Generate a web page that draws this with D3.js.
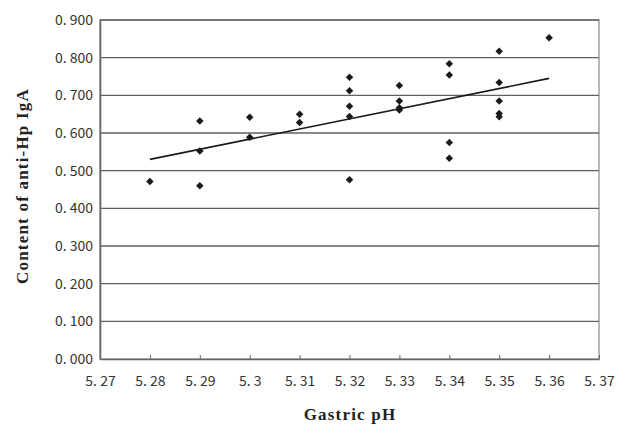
<!DOCTYPE html>
<html>
<head>
<meta charset="utf-8">
<script src="https://cdn.jsdelivr.net/npm/d3@7"></script>
<style>
  body { margin: 0; background: #fff; }
  svg { display: block; }
</style>
</head>
<body>
<div id="chart"></div>
<script>
// Data
const phValues = [5.28, 5.29, 5.29, 5.29, 5.30, 5.30, 5.31, 5.31,
  5.32, 5.32, 5.32, 5.32, 5.32, 5.33, 5.33, 5.33, 5.33,
  5.34, 5.34, 5.34, 5.34, 5.35, 5.35, 5.35, 5.35, 5.35, 5.36];
const igaValues = [0.471, 0.632, 0.552, 0.460, 0.642, 0.589, 0.650, 0.628,
  0.748, 0.712, 0.671, 0.644, 0.476, 0.726, 0.685, 0.667, 0.661,
  0.784, 0.754, 0.575, 0.533, 0.817, 0.734, 0.685, 0.652, 0.643, 0.853];
// linear trendline end points
const trendX = [5.28, 5.36];
const trendY = [0.530, 0.745];

const xTicks = [5.27, 5.28, 5.29, 5.30, 5.31, 5.32, 5.33, 5.34, 5.35, 5.36, 5.37];
const xTickLabels = ["5. 27", "5. 28", "5. 29", "5. 3", "5. 31", "5. 32", "5. 33", "5. 34", "5. 35", "5. 36", "5. 37"];
const yTicks = [0, 0.1, 0.2, 0.3, 0.4, 0.5, 0.6, 0.7, 0.8, 0.9];
const yTickLabels = ["0. 000", "0. 100", "0. 200", "0. 300", "0. 400", "0. 500", "0. 600", "0. 700", "0. 800", "0. 900"];

const width = 618, height = 424;
const margin = {top: 20, right: 19, bottom: 65, left: 100};

const svg = d3.select("#chart").append("svg")
  .attr("width", width)
  .attr("height", height);

const x = d3.scaleLinear().domain([5.27, 5.37]).range([margin.left, width - margin.right]);
const y = d3.scaleLinear().domain([0, 0.9]).range([height - margin.bottom, margin.top]);

const tickFont = "'Noto Sans CJK SC', 'DejaVu Sans Mono', monospace";
const titleFont = "'Liberation Serif', 'Times New Roman', serif";

// plot border (top/right, light gray)
svg.append("rect")
  .attr("x", x(5.27)).attr("y", y(0.9))
  .attr("width", x(5.37) - x(5.27)).attr("height", y(0) - y(0.9))
  .attr("fill", "none").attr("stroke", "#a0a0a0").attr("stroke-width", 1.5);

// horizontal gridlines
svg.append("g")
  .selectAll("line")
  .data(yTicks.filter(d => d > 0))
  .enter().append("line")
  .attr("x1", x(5.27)).attr("x2", x(5.37))
  .attr("y1", d => y(d)).attr("y2", d => y(d))
  .attr("stroke", "#606060").attr("stroke-width", 1.4);

// y axis
const yAxis = svg.append("g")
  .attr("transform", `translate(${x(5.27)},0)`)
  .call(d3.axisLeft(y).tickValues(yTicks).tickSize(0).tickPadding(7)
    .tickFormat((d, i) => yTickLabels[i]));
yAxis.select(".domain").attr("stroke", "#666").attr("stroke-width", 1.6);
yAxis.selectAll("text")
  .attr("font-family", tickFont).attr("font-size", 14).attr("fill", "#333");

// x axis with small inside ticks
const xAxis = svg.append("g")
  .attr("transform", `translate(0,${y(0)})`)
  .call(d3.axisBottom(x).tickValues(xTicks).tickSizeInner(-4).tickSizeOuter(0).tickPadding(17)
    .tickFormat((d, i) => xTickLabels[i]));
xAxis.select(".domain").attr("stroke", "#666").attr("stroke-width", 1.6);
xAxis.selectAll(".tick line").attr("stroke", "#666");
xAxis.selectAll("text")
  .attr("font-family", tickFont).attr("font-size", 14).attr("fill", "#333");

// trendline
svg.append("line")
  .attr("x1", x(trendX[0])).attr("y1", y(trendY[0]))
  .attr("x2", x(trendX[1])).attr("y2", y(trendY[1]))
  .attr("stroke", "#1a1a1a").attr("stroke-width", 1.6);

// diamond markers
const diamond = d3.symbol().type(d3.symbolDiamond2).size(36);
svg.append("g")
  .selectAll("path")
  .data(phValues.map((p, i) => ({p: p, v: igaValues[i]})))
  .enter().append("path")
  .attr("d", diamond)
  .attr("transform", d => `translate(${x(d.p)},${y(d.v)})`)
  .attr("fill", "#1a1a1a");

// axis titles
svg.append("text")
  .attr("x", (x(5.27) + x(5.37)) / 2 + 0.5)
  .attr("y", 420)
  .attr("text-anchor", "middle")
  .attr("font-family", titleFont)
  .attr("font-weight", "bold")
  .attr("font-size", 17)
  .attr("letter-spacing", 1.2)
  .attr("fill", "#222")
  .text("Gastric pH");

svg.append("text")
  .attr("transform", `translate(28,186) rotate(-90)`)
  .attr("text-anchor", "middle")
  .attr("font-family", titleFont)
  .attr("font-weight", "bold")
  .attr("font-size", 17)
  .attr("letter-spacing", 1.2)
  .attr("fill", "#222")
  .text("Content of anti-Hp IgA");
</script>
</body>
</html>
